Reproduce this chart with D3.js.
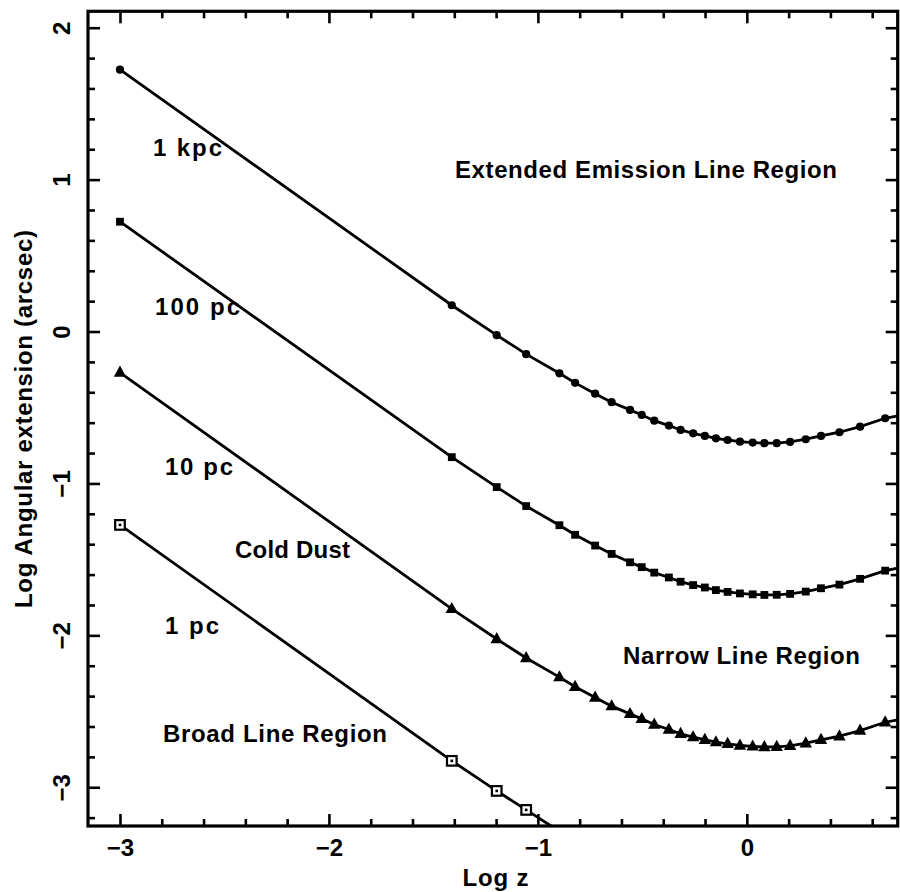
<!DOCTYPE html>
<html>
<head>
<meta charset="utf-8">
<script src="https://cdn.jsdelivr.net/npm/d3@7"></script>
<style>
body { margin: 0; background: #fff; }
svg text { font-family: "Liberation Sans", Arial, sans-serif; font-weight: bold; font-size: 24px; fill: #000; }
</style>
</head>
<body>
<script>
// redshift grid (log z) shared by all curves
var logZ = [-3, -1.412, -1.197, -1.056, -0.897, -0.822, -0.726, -0.647, -0.559, -0.503, -0.443,
  -0.373, -0.317, -0.257, -0.201, -0.148, -0.092, -0.033, 0.028, 0.084, 0.143, 0.207, 0.282,
  0.355, 0.443, 0.542, 0.662, 0.722]

// log angular extension (arcsec) for each linear size
var kpc1 = [1.724, 0.173, -0.024, -0.149, -0.275, -0.338, -0.409, -0.465, -0.516, -0.549, -0.587,
  -0.619, -0.648, -0.670, -0.687, -0.703, -0.714, -0.725, -0.731, -0.735, -0.735, -0.727, -0.709,
  -0.687, -0.663, -0.626, -0.571, -0.555]
var pc100 = [0.723, -0.827, -1.024, -1.149, -1.275, -1.338, -1.409, -1.464, -1.519, -1.551, -1.587,
  -1.619, -1.647, -1.669, -1.685, -1.702, -1.714, -1.724, -1.730, -1.734, -1.733, -1.727, -1.712,
  -1.690, -1.666, -1.628, -1.574, -1.557]
var pc10 = [-0.270, -1.826, -2.024, -2.149, -2.275, -2.338, -2.409, -2.466, -2.517, -2.550, -2.587,
  -2.620, -2.648, -2.670, -2.687, -2.703, -2.714, -2.725, -2.731, -2.735, -2.734, -2.727, -2.710,
  -2.688, -2.664, -2.627, -2.572, -2.556]
var pc1 = [-1.273, -2.826, -3.024, -3.149, -3.290]

var xMajor = [-3, -2, -1, 0]
var yMajor = [-3, -2, -1, 0, 1, 2]
var xMinor = [-2.8, -2.6, -2.4, -2.2, -1.8, -1.6, -1.4, -1.2, -0.8, -0.6, -0.4, -0.2, 0.2, 0.4, 0.6]
var yMinor = [-3.2, -2.8, -2.6, -2.4, -2.2, -1.8, -1.6, -1.4, -1.2, -0.8, -0.6, -0.4, -0.2,
  0.2, 0.4, 0.6, 0.8, 1.2, 1.4, 1.6, 1.8]

var padL = 88, padR = 897.7, padT = 11.3, padB = 826

var svg = d3.select('body').append('svg')
  .attr('width', 900)
  .attr('height', 892)

var x = d3.scaleLinear().domain([-3.153, 0.722]).range([padL, padR])
var y = d3.scaleLinear().domain([-3.255, 2.108]).range([padB, padT])

svg.append('clipPath').attr('id', 'plotClip')
  .append('rect')
  .attr('x', padL).attr('y', padT)
  .attr('width', padR - padL).attr('height', padB - padT)

function styleAxis(g) {
  g.select('.domain').remove()
  g.selectAll('.tick line').attr('stroke', '#000').attr('stroke-width', 2.6)
}

// bottom
svg.append('g').attr('transform', 'translate(0,' + padB + ')')
  .call(d3.axisBottom(x).tickValues(xMajor).tickSize(-12).tickPadding(13).tickFormat(d3.format('d')))
  .call(styleAxis)
svg.append('g').attr('transform', 'translate(0,' + padB + ')')
  .call(d3.axisBottom(x).tickValues(xMinor).tickSize(-7).tickFormat(''))
  .call(styleAxis)
// top
svg.append('g').attr('transform', 'translate(0,' + padT + ')')
  .call(d3.axisTop(x).tickValues(xMajor).tickSize(-12).tickFormat(''))
  .call(styleAxis)
svg.append('g').attr('transform', 'translate(0,' + padT + ')')
  .call(d3.axisTop(x).tickValues(xMinor).tickSize(-7).tickFormat(''))
  .call(styleAxis)
// left
var yAxisG = svg.append('g').attr('transform', 'translate(' + padL + ',0)')
  .call(d3.axisLeft(y).tickValues(yMajor).tickSize(-12).tickFormat(d3.format('d')))
  .call(styleAxis)
yAxisG.selectAll('.tick text')
  .attr('x', 0).attr('y', -18).attr('dy', 0)
  .attr('text-anchor', 'middle')
  .attr('transform', 'rotate(-90)')
svg.append('g').attr('transform', 'translate(' + padL + ',0)')
  .call(d3.axisLeft(y).tickValues(yMinor).tickSize(-7).tickFormat(''))
  .call(styleAxis)
// right
svg.append('g').attr('transform', 'translate(' + padR + ',0)')
  .call(d3.axisRight(y).tickValues(yMajor).tickSize(-12).tickFormat(''))
  .call(styleAxis)
svg.append('g').attr('transform', 'translate(' + padR + ',0)')
  .call(d3.axisRight(y).tickValues(yMinor).tickSize(-7).tickFormat(''))
  .call(styleAxis)

svg.append('rect')
  .attr('x', padL).attr('y', padT)
  .attr('width', padR - padL).attr('height', padB - padT)
  .attr('fill', 'none').attr('stroke', '#000').attr('stroke-width', 3.2)

var series = [
  { values: kpc1, marker: 'circle' },
  { values: pc100, marker: 'square' },
  { values: pc10, marker: 'triangle' },
  { values: pc1, marker: 'dotsquare' }
]

var line = d3.line()
  .x(function (d) { return x(d.z) })
  .y(function (d) { return y(d.v) })

var plot = svg.append('g').attr('clip-path', 'url(#plotClip)')

series.forEach(function (s) {
  var pts = s.values.map(function (v, i) { return { z: logZ[i], v: v } })
  plot.append('path')
    .datum(pts)
    .attr('d', line)
    .attr('fill', 'none')
    .attr('stroke', '#000')
    .attr('stroke-width', 2.8)

  // the last grid point only carries the line to the frame; marks below the frame are skipped
  var marks = pts.filter(function (d) { return d.z < 0.7 && d.v > -3.255 })
  var g = plot.append('g')
  if (s.marker == 'circle') {
    g.selectAll('circle').data(marks).enter().append('circle')
      .attr('cx', function (d) { return x(d.z) })
      .attr('cy', function (d) { return y(d.v) })
      .attr('r', 4.1)
      .attr('fill', '#000')
  } else if (s.marker == 'square') {
    g.selectAll('rect').data(marks).enter().append('rect')
      .attr('x', function (d) { return x(d.z) - 3.9 })
      .attr('y', function (d) { return y(d.v) - 3.9 })
      .attr('width', 7.8).attr('height', 7.8)
      .attr('fill', '#000')
  } else if (s.marker == 'triangle') {
    g.selectAll('path').data(marks).enter().append('path')
      .attr('d', 'M0,-7L6.2,4.2L-6.2,4.2Z')
      .attr('transform', function (d) { return 'translate(' + x(d.z) + ',' + y(d.v) + ')' })
      .attr('fill', '#000')
  } else {
    var ms = g.selectAll('g').data(marks).enter().append('g')
      .attr('transform', function (d) { return 'translate(' + x(d.z) + ',' + y(d.v) + ')' })
    ms.append('rect')
      .attr('x', -4.8).attr('y', -4.8).attr('width', 9.6).attr('height', 9.6)
      .attr('fill', '#fff').attr('stroke', '#000').attr('stroke-width', 2.2)
    ms.append('rect')
      .attr('x', -1.3).attr('y', -1.3).attr('width', 2.6).attr('height', 2.6)
      .attr('fill', '#000')
  }
})

var labels = [
  { text: '1 kpc', x: 153, y: 156, w: 69 },
  { text: '100 pc', x: 155, y: 315, w: 85 },
  { text: '10 pc', x: 165, y: 475, w: 68 },
  { text: 'Cold Dust', x: 235, y: 558, w: 115 },
  { text: '1 pc', x: 165, y: 634, w: 54 },
  { text: 'Broad Line Region', x: 163, y: 742, w: 224 },
  { text: 'Narrow Line Region', x: 623, y: 664, w: 237 },
  { text: 'Extended Emission Line Region', x: 455, y: 178, w: 382 }
]

svg.selectAll('.note').data(labels).enter().append('text')
  .attr('class', 'note')
  .attr('x', function (d) { return d.x })
  .attr('y', function (d) { return d.y })
  .attr('textLength', function (d) { return d.w })
  .attr('lengthAdjust', 'spacing')
  .text(function (d) { return d.text })

svg.append('text')
  .attr('x', 495.5).attr('y', 886)
  .attr('text-anchor', 'middle')
  .attr('textLength', 66)
  .attr('lengthAdjust', 'spacing')
  .text('Log z')

svg.append('text')
  .attr('transform', 'translate(31.5,419) rotate(-90)')
  .attr('text-anchor', 'middle')
  .attr('textLength', 378)
  .attr('lengthAdjust', 'spacing')
  .text('Log Angular extension (arcsec)')
</script>
</body>
</html>
